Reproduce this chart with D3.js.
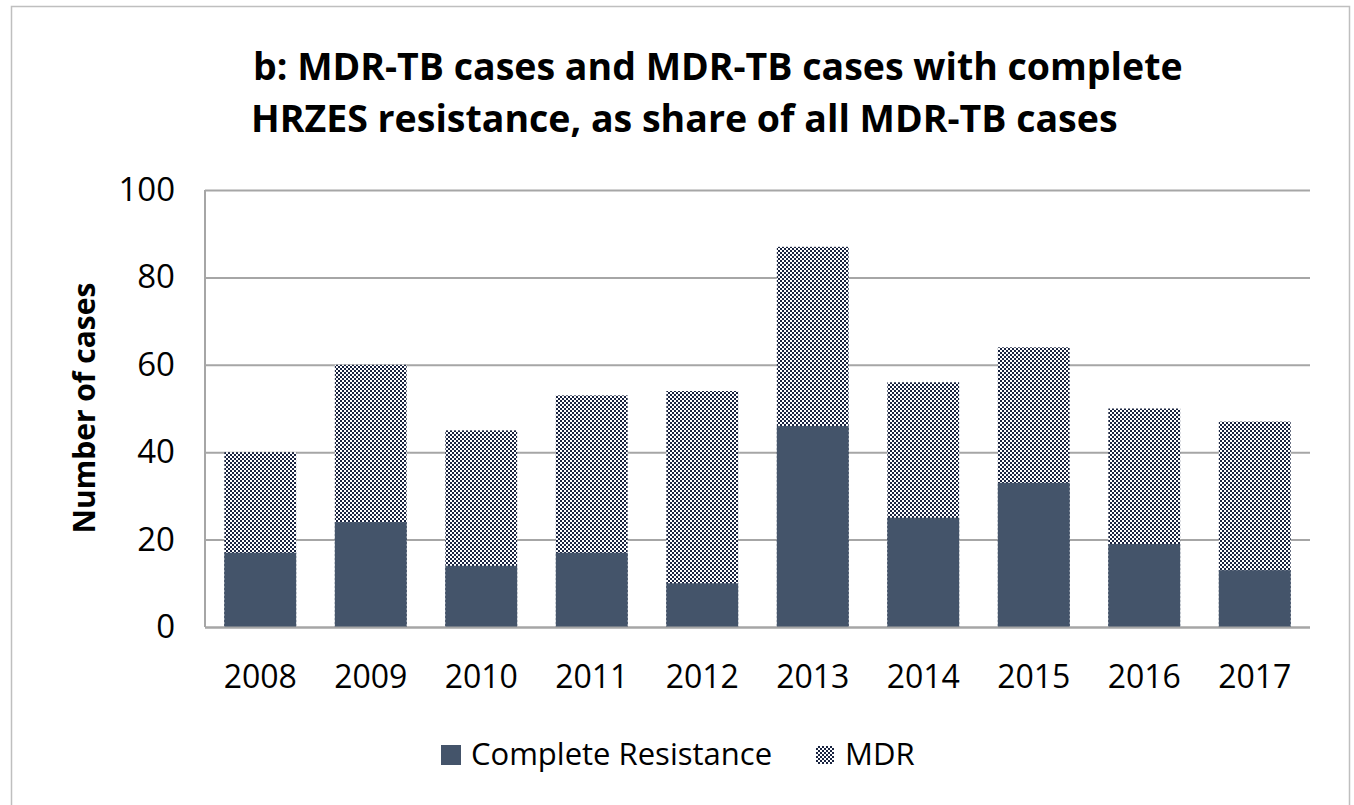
<!DOCTYPE html>
<html>
<head>
<meta charset="utf-8">
<script src="https://cdn.jsdelivr.net/npm/d3@7"></script>
<style>
  body { margin: 0; background: #fff; }
  svg { display: block; font-family: "Open Sans", "Noto Sans", sans-serif; }
</style>
</head>
<body>
<svg id="chart" width="1354" height="805"></svg>
<script>
// Data
const years = ["2008", "2009", "2010", "2011", "2012", "2013", "2014", "2015", "2016", "2017"];
const mdrCases = [40, 60, 45, 53, 54, 87, 56, 64, 50, 47];
const completeResistance = [17, 24, 14, 17, 10, 46, 25, 33, 19, 13];
const yTicks = [0, 20, 40, 60, 80, 100];
const titleLines = ["b: MDR-TB cases and MDR-TB cases with complete", "HRZES resistance, as share of all MDR-TB cases"];

const svg = d3.select("#chart");
const margin = { left: 205, right: 1310, top: 190, bottom: 627 };

// Checkerboard fill for the MDR bars
const defs = svg.append("defs");
const pat = defs.append("pattern")
    .attr("id", "checker")
    .attr("width", 4).attr("height", 4)
    .attr("patternUnits", "userSpaceOnUse");
pat.append("rect").attr("width", 4).attr("height", 4).attr("fill", "#fff");
pat.append("rect").attr("width", 2).attr("height", 2).attr("fill", "#1a2440");
pat.append("rect").attr("x", 2).attr("y", 2).attr("width", 2).attr("height", 2).attr("fill", "#1a2440");

// Outer frame
svg.append("rect")
    .attr("x", 11.5).attr("y", 6.5)
    .attr("width", 1338).attr("height", 810)
    .attr("fill", "none").attr("stroke", "#bfbfbf").attr("stroke-width", 1.5);

const x = d3.scaleBand().domain(years).range([margin.left, margin.right]).paddingInner(0.35).paddingOuter(0.175);
const y = d3.scaleLinear().domain([0, 100]).range([margin.bottom, margin.top]);

// Gridlines
svg.append("g")
    .selectAll("line")
    .data(yTicks)
    .join("line")
    .attr("x1", margin.left).attr("x2", margin.right)
    .attr("y1", d => y(d) + 0.5).attr("y2", d => y(d) + 0.5)
    .attr("stroke", "#a6a6a6").attr("stroke-width", 2);

// Left axis line
svg.append("line")
    .attr("x1", margin.left).attr("x2", margin.left)
    .attr("y1", y(100)).attr("y2", y(0))
    .attr("stroke", "#a6a6a6").attr("stroke-width", 2);

// MDR bars (total)
svg.append("g")
    .selectAll("rect")
    .data(years)
    .join("rect")
    .attr("x", d => x(d))
    .attr("width", x.bandwidth())
    .attr("y", (d, i) => y(mdrCases[i]))
    .attr("height", (d, i) => y(0) - y(mdrCases[i]))
    .attr("fill", "url(#checker)");

// Complete resistance bars
svg.append("g")
    .selectAll("rect")
    .data(years)
    .join("rect")
    .attr("x", d => x(d))
    .attr("width", x.bandwidth())
    .attr("y", (d, i) => y(completeResistance[i]))
    .attr("height", (d, i) => y(0) - y(completeResistance[i]))
    .attr("fill", "#44546a");

// Baseline on top of the bars
svg.append("line")
    .attr("x1", margin.left).attr("x2", margin.right)
    .attr("y1", y(0) + 0.5).attr("y2", y(0) + 0.5)
    .attr("stroke", "#a6a6a6").attr("stroke-width", 2);

// Y axis
const yAxis = svg.append("g")
    .attr("transform", `translate(${margin.left},0)`)
    .call(d3.axisLeft(y).tickValues(yTicks).tickSize(0).tickPadding(30));
yAxis.select(".domain").remove();
yAxis.selectAll("text").attr("font-size", 33).attr("font-family", "Open Sans").attr("fill", "#000");

// X axis
const xAxis = svg.append("g")
    .attr("transform", `translate(0,${margin.bottom})`)
    .call(d3.axisBottom(x).tickSize(0).tickPadding(38));
xAxis.select(".domain").remove();
xAxis.selectAll("text").attr("font-size", 32).attr("font-family", "Open Sans").attr("fill", "#000");

// Title
svg.append("g")
    .selectAll("text")
    .data(titleLines)
    .join("text")
    .attr("x", (d, i) => i === 0 ? 253 : 251)
    .attr("y", (d, i) => 80 + i * 52)
    .attr("font-size", 37.5).attr("font-weight", "bold")
    .attr("fill", "#000")
    .text(d => d);

// Y axis title
svg.append("text")
    .attr("transform", "translate(95,408) rotate(-90)")
    .attr("text-anchor", "middle")
    .attr("font-size", 30).attr("font-weight", "bold")
    .attr("fill", "#000")
    .text("Number of cases");

// Legend
const legend = svg.append("g");
legend.append("rect").attr("x", 441).attr("y", 745).attr("width", 20).attr("height", 20).attr("fill", "#44546a");
legend.append("text").attr("x", 471).attr("y", 765).attr("font-size", 31).attr("fill", "#000").text("Complete Resistance");
legend.append("rect").attr("x", 816).attr("y", 746).attr("width", 18).attr("height", 18).attr("fill", "url(#checker)");
legend.append("text").attr("x", 845).attr("y", 765).attr("font-size", 31).attr("fill", "#000").text("MDR");
</script>
</body>
</html>
